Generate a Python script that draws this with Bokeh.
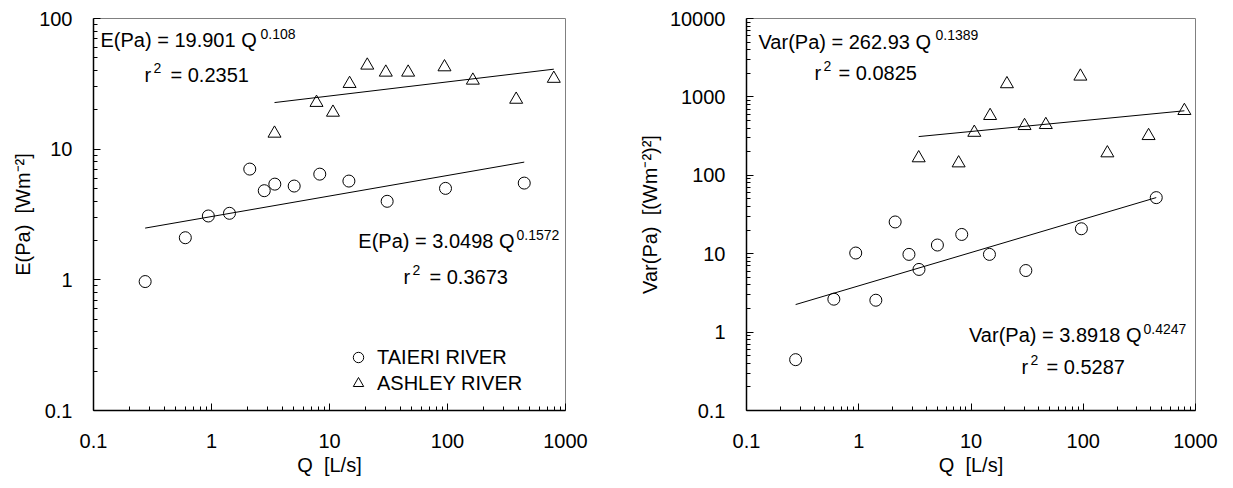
from bokeh.plotting import figure
from bokeh.layouts import row
from bokeh.models import FixedTicker, Label, Legend, LegendItem
from bokeh.embed import file_html
from bokeh.resources import INLINE

FONT = "Liberation Sans"
NB = "\u00a0"

# ---------------- data ----------------
taieri_q = [0.274, 0.60, 0.94, 1.42, 2.11, 2.80, 3.44, 5.02, 8.27, 14.6, 30.8, 96.2, 447.0]
taieri_e = [0.97, 2.10, 3.08, 3.23, 7.04, 4.81, 5.40, 5.22, 6.44, 5.70, 3.99, 5.01, 5.50]
taieri_var = [0.445, 2.63, 10.2, 2.55, 25.4, 9.8, 6.3, 12.9, 17.6, 9.8, 6.1, 20.8, 51.9]

ashley_q = [3.42, 7.76, 10.7, 14.8, 20.9, 30.0, 46.4, 94.3, 164.0, 382.0, 796.0]
ashley_e = [13.2, 22.7, 19.1, 31.7, 43.8, 38.7, 38.7, 42.5, 33.6, 24.0, 34.7]
ashley_var = [166, 143, 351, 575, 1462, 428, 441, 1829, 192, 319, 666]

# fitted power laws printed on the chart: (coefficient, exponent)
fit_e_taieri = (3.0498, 0.1572)
fit_e_ashley = (19.901, 0.108)
fit_var_taieri = (3.8918, 0.4247)
fit_var_ashley = (262.93, 0.1389)

x_ticks = [0.1, 1, 10, 100, 1000]
x_tick_labels = ["0.1", "1", "10", "100", "1000"]
e_ticks = [0.1, 1, 10, 100]
e_tick_labels = ["0.1", "1", "10", "100"]
var_ticks = [0.1, 1, 10, 100, 1000, 10000]
var_tick_labels = ["0.1", "1", "10", "100", "1000", "10000"]


def minors(ticks):
    return [m * t for t in ticks[:-1] for m in range(2, 10)]


def make_fig(width, bl, br, y_range, y_ticks, y_labels, y_title, ylab_standoff):
    p = figure(width=width, height=482, x_axis_type="log", y_axis_type="log",
               x_range=(0.1, 1000), y_range=y_range,
               output_backend="svg", toolbar_location=None,
               min_border_left=bl, min_border_right=br,
               min_border_top=18, min_border_bottom=72)
    p.grid.visible = False
    p.outline_line_color = "#808080"
    p.outline_line_width = 1
    p.background_fill_color = "white"
    p.border_fill_color = "white"
    for ax, ticks, labels in ((p.xaxis[0], x_ticks, x_tick_labels),
                              (p.yaxis[0], y_ticks, y_labels)):
        ax.ticker = FixedTicker(ticks=ticks, minor_ticks=minors(ticks))
        ax.major_label_overrides = dict(zip(ticks, labels))
        ax.major_tick_in = 7
        ax.major_tick_out = 0
        ax.minor_tick_in = 4
        ax.minor_tick_out = 0
        ax.axis_line_color = "black"
        ax.axis_line_width = 1.5
        ax.major_tick_line_color = "black"
        ax.minor_tick_line_color = "black"
        ax.major_label_text_font = FONT
        ax.major_label_text_font_size = "20px"
        ax.major_label_text_color = "black"
        ax.axis_label_text_font = FONT
        ax.axis_label_text_font_size = "20px"
        ax.axis_label_text_font_style = "normal"
        ax.axis_label_text_color = "black"
    p.xaxis[0].axis_label = "Q" + NB + NB + "[L/s]"
    p.xaxis[0].major_label_standoff = 23
    p.xaxis[0].axis_label_standoff = 3
    p.yaxis[0].axis_label = y_title
    p.yaxis[0].major_label_standoff = 21
    p.yaxis[0].axis_label_standoff = ylab_standoff
    return p


def fit_line(p, q, coef):
    a, b = coef
    qq = [min(q), max(q)]
    p.line(qq, [a * v ** b for v in qq], line_color="black", line_width=1)


def text(p, x, y, s, size="20px", align="left"):
    p.add_layout(Label(x=x, y=y, x_units="screen", y_units="screen", text=s,
                       text_font=FONT, text_font_size=size, text_color="black",
                       text_align=align, text_baseline="alphabetic"))


# ---------------- left: E(Pa) ----------------
p1 = make_fig(620, 93, 55, (0.1, 100), e_ticks, e_tick_labels,
              "E(Pa)" + NB + NB + "[Wm\u207b\u00b2]", 2)
fit_line(p1, taieri_q, fit_e_taieri)
fit_line(p1, ashley_q, fit_e_ashley)
rc1 = p1.scatter(taieri_q, taieri_e, marker="circle", size=12, fill_color=None,
                 line_color="black", line_width=1)
rt1 = p1.scatter(ashley_q, ashley_e, marker="triangle", size=13, fill_color=None,
                 line_color="black", line_width=1)

text(p1, 7, 371, "E(Pa) = 19.901 Q")
text(p1, 167, 377, "0.108", "14px")
text(p1, 51, 336, "r")
text(p1, 60, 343, "2", "14px")
text(p1, 77, 336, "= 0.2351")

text(p1, 421, 170, "E(Pa) = 3.0498 Q", align="right")
text(p1, 423, 176, "0.1572", "14px")
text(p1, 310, 134, "r")
text(p1, 319, 141, "2", "14px")
text(p1, 336, 134, "= 0.3673")

legend = Legend(items=[LegendItem(label="TAIERI RIVER", renderers=[rc1]),
                       LegendItem(label="ASHLEY RIVER", renderers=[rt1])],
                location=(252, 14), padding=0, margin=0, spacing=0,
                glyph_width=26, glyph_height=26, label_standoff=6,
                border_line_color=None, background_fill_alpha=0,
                label_text_font=FONT, label_text_font_size="20px",
                label_text_color="black")
p1.add_layout(legend)

# ---------------- right: Var(Pa) ----------------
p2 = make_fig(603, 126, 28, (0.1, 10000), var_ticks, var_tick_labels,
              "Var(Pa)" + NB + NB + "[(Wm\u207b\u00b2)\u00b2]", 6)
fit_line(p2, taieri_q, fit_var_taieri)
fit_line(p2, ashley_q, fit_var_ashley)
p2.scatter(taieri_q, taieri_var, marker="circle", size=12, fill_color=None,
           line_color="black", line_width=1)
p2.scatter(ashley_q, ashley_var, marker="triangle", size=13, fill_color=None,
           line_color="black", line_width=1)

text(p2, 12, 369, "Var(Pa) = 262.93 Q")
text(p2, 189, 376, "0.1389", "14px")
text(p2, 68, 338, "r")
text(p2, 77, 345, "2", "14px")
text(p2, 92, 338, "= 0.0825")

text(p2, 395, 76, "Var(Pa) = 3.8918 Q", align="right")
text(p2, 397, 82, "0.4247", "14px")
text(p2, 275, 44, "r")
text(p2, 284, 51, "2", "14px")
text(p2, 300, 44, "= 0.5287")

layout = row(p1, p2)
open("out.html", "w").write(file_html(layout, INLINE))
